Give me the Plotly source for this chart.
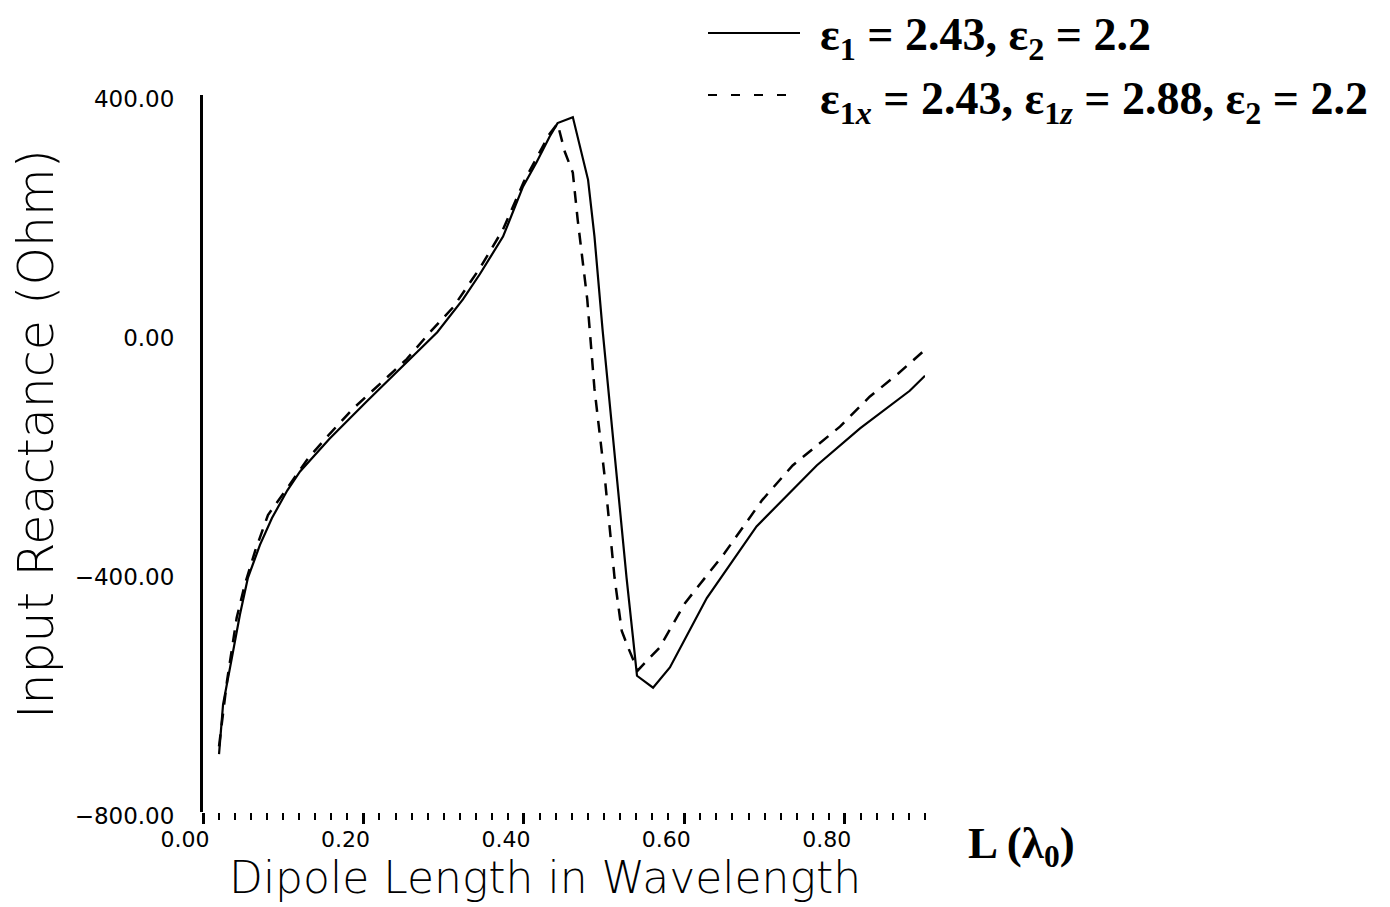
import plotly.graph_objects as go

# Input reactance of a printed dipole vs. dipole length (in free-space wavelengths)
length_iso = [0.020, 0.025, 0.036, 0.046, 0.056, 0.071, 0.086, 0.105, 0.121, 0.158,
              0.204, 0.249, 0.292, 0.324, 0.345, 0.374, 0.399, 0.416, 0.432, 0.442,
              0.454, 0.461, 0.480, 0.488, 0.498, 0.510, 0.520, 0.528, 0.536, 0.541,
              0.561, 0.582, 0.628, 0.690, 0.765, 0.819, 0.881, 0.900]
react_iso = [-703, -620, -542, -470, -408, -353, -308, -262, -230, -175,
             -113, -53, 3, 58, 100, 163, 247, 288, 330, 353,
             360, 363, 258, 163, 8, -158, -308, -408, -508, -572,
             -592, -558, -442, -322, -220, -158, -95, -70]

length_aniso = [0.020, 0.030, 0.042, 0.052, 0.065, 0.081, 0.105, 0.131, 0.158, 0.187,
                0.221, 0.254, 0.283, 0.312, 0.345, 0.374, 0.400, 0.416, 0.432, 0.442,
                0.451, 0.461, 0.467, 0.479, 0.488, 0.501, 0.513, 0.522, 0.530, 0.542,
                0.569, 0.601, 0.650, 0.697, 0.735, 0.794, 0.831, 0.866, 0.897]
react_aniso = [-690, -580, -475, -420, -363, -303, -258, -208, -167, -125,
               -83, -42, 3, 45, 110, 175, 255, 295, 335, 352,
               305, 270, 192, 58, -92, -242, -408, -497, -525, -563,
               -525, -450, -367, -278, -220, -155, -105, -67, -30]

x_tick_vals = [0.0, 0.2, 0.4, 0.6, 0.8]
x_tick_text = ["0.00", "0.20", "0.40", "0.60", "0.80"]
y_tick_vals = [-800, -400, 0, 400]
y_tick_text = ["\u2212800.00", "\u2212400.00", "0.00", "400.00"]

legend_iso = "\u03b5<sub>1</sub> = 2.43, \u03b5<sub>2</sub> = 2.2"
legend_aniso = ("\u03b5<sub>1<i>x</i></sub> = 2.43, \u03b5<sub>1<i>z</i></sub> = 2.88, "
                "\u03b5<sub>2</sub> = 2.2")
x_title = "Dipole Length in Wavelength"
y_title = "Input Reactance (Ohm)"
x_unit = "L (\u03bb<sub>0</sub>)"

W, H = 1390, 907
L, R, T, B = 203, 465, 95, 95
PW, PH = W - L - R, H - T - B


def px(x):
    return (x - L) / PW


def py(y):
    return (H - B - y) / PH


AXIS_FONT = "DejaVu Sans, Liberation Sans, sans-serif"
SERIF = "Liberation Serif, Times New Roman, serif"

fig = go.Figure()
fig.add_trace(go.Scatter(x=length_iso, y=react_iso, mode="lines",
                         line=dict(color="black", width=2.2), showlegend=False))
fig.add_trace(go.Scatter(x=length_aniso, y=react_aniso, mode="lines",
                         line=dict(color="black", width=2.5, dash="12px,9px"),
                         showlegend=False))

# legend samples and labels
fig.add_shape(type="line", xref="paper", yref="paper",
              x0=px(708), x1=px(800), y0=py(33), y1=py(33),
              line=dict(color="black", width=2))
fig.add_shape(type="line", xref="paper", yref="paper",
              x0=px(708), x1=px(800), y0=py(95), y1=py(95),
              line=dict(color="black", width=2, dash="9px,14px"))
fig.add_annotation(xref="paper", yref="paper", x=px(818), y=py(38),
                   text=legend_iso, showarrow=False, xanchor="left", yanchor="middle",
                   font=dict(family=SERIF, size=46, color="black", weight="bold"))
fig.add_annotation(xref="paper", yref="paper", x=px(818), y=py(102),
                   text=legend_aniso, showarrow=False, xanchor="left", yanchor="middle",
                   font=dict(family=SERIF, size=46, color="black", weight="bold"))

# axis titles
fig.add_annotation(xref="paper", yref="paper", x=px(545), y=py(877),
                   text=x_title, showarrow=False, xanchor="center", yanchor="middle",
                   font=dict(family=AXIS_FONT, size=44, color="black", weight=200))
fig.add_annotation(xref="paper", yref="paper", x=px(37), y=py(434),
                   text=y_title, showarrow=False, textangle=-90,
                   xanchor="center", yanchor="middle",
                   font=dict(family=AXIS_FONT, size=49, color="black", weight=200))
fig.add_annotation(xref="paper", yref="paper", x=px(966), y=py(846),
                   text=x_unit, showarrow=False, xanchor="left", yanchor="middle",
                   font=dict(family=SERIF, size=45, color="black", weight="bold"))

fig.update_xaxes(range=[0, 0.9], showgrid=False, zeroline=False, showline=False,
                 tickvals=x_tick_vals, ticktext=x_tick_text,
                 ticks="outside", ticklen=11, tickwidth=2.5, tickcolor="black",
                 minor=dict(dtick=0.02, tick0=0, ticks="outside", ticklen=7,
                            tickwidth=2, tickcolor="black"),
                 ticklabelshift=-18, ticklabelstandoff=-3,
                 tickfont=dict(family=AXIS_FONT, size=22, color="black"))
fig.update_yaxes(range=[-800, 400], showgrid=False, zeroline=False,
                 showline=True, linewidth=3, linecolor="black",
                 tickvals=y_tick_vals, ticktext=y_tick_text, ticks="",
                 ticklabelstandoff=21, ticklabelshift=4,
                 tickfont=dict(family=AXIS_FONT, size=23, color="black"))

fig.update_layout(width=W, height=H, margin=dict(l=L, r=R, t=T, b=B),
                  plot_bgcolor="white", paper_bgcolor="white", showlegend=False)

fig.write_html("out.html")
